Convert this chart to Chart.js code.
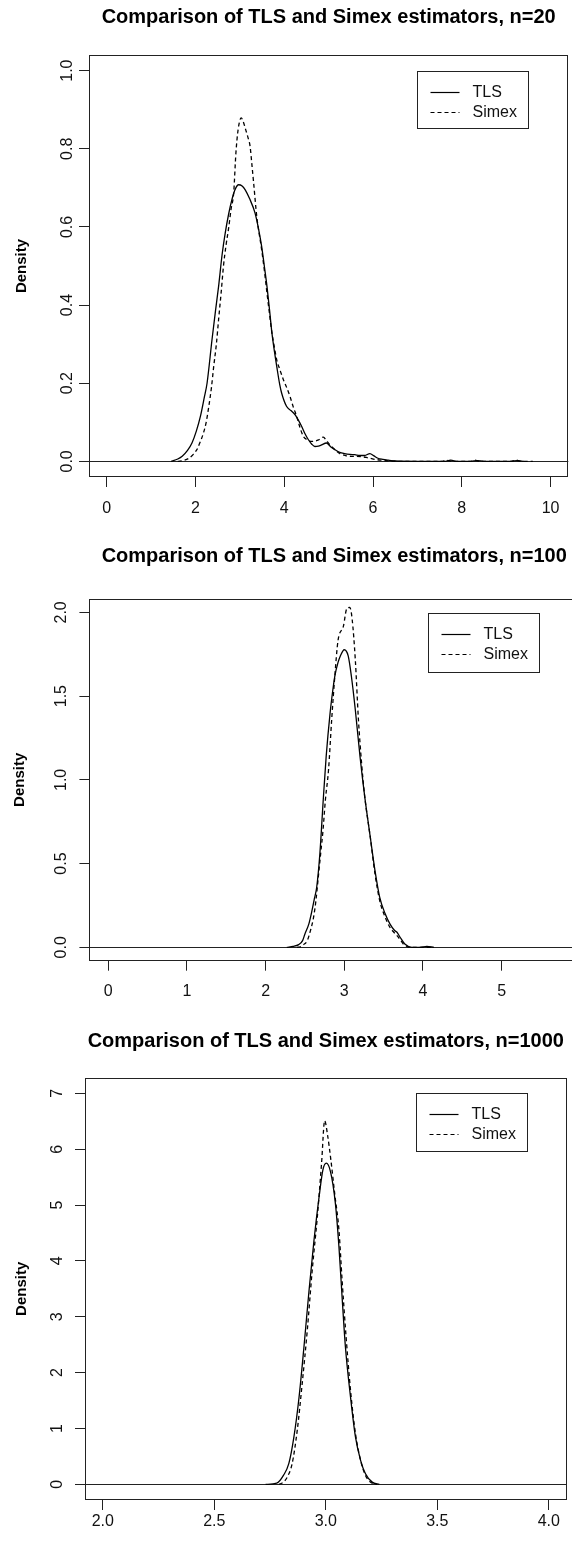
<!DOCTYPE html>
<html>
<head>
<meta charset="utf-8">
<script src="https://cdn.jsdelivr.net/npm/chart.js"></script>
<style>
  html, body { margin: 0; padding: 0; background: #fff; overflow: hidden; }
  .panel { position: absolute; left: 0; }
</style>
</head>
<body>
<div class="panel" style="top:0px;width:572px;height:520px"><canvas id="c20"></canvas></div>
<div class="panel" style="top:520px;width:590px;height:505px"><canvas id="c100"></canvas></div>
<div class="panel" style="top:1025px;width:572px;height:521px"><canvas id="c1000"></canvas></div>
<script>
Chart.defaults.font.family = "'Liberation Sans', Arial, sans-serif";
Chart.defaults.color = '#111';

// n = 20
var tlsX20 = [1.45, 1.60, 1.70, 1.82, 1.92, 2.02, 2.11, 2.20, 2.26, 2.37, 2.45, 2.52, 2.60, 2.67, 2.75, 2.82, 2.90, 2.97, 3.05, 3.12, 3.22, 3.34, 3.42, 3.49, 3.55, 3.61, 3.67, 3.72, 3.78, 3.83, 3.90, 3.94, 4.05, 4.15, 4.24, 4.32, 4.39, 4.47, 4.54, 4.62, 4.69, 4.77, 4.84, 4.95, 5.05, 5.14, 5.25, 5.36, 5.48, 5.59, 5.70, 5.81, 5.93, 6.02, 6.11, 6.22, 6.34, 6.50, 7.00, 7.60, 7.75, 7.90, 8.20, 8.35, 8.50, 9.10, 9.25, 9.40];
var tlsY20 = [0, 0.006, 0.013, 0.028, 0.047, 0.078, 0.115, 0.165, 0.20, 0.31, 0.385, 0.448, 0.53, 0.585, 0.635, 0.67, 0.698, 0.708, 0.705, 0.695, 0.672, 0.636, 0.595, 0.55, 0.50, 0.448, 0.385, 0.33, 0.28, 0.243, 0.195, 0.175, 0.141, 0.13, 0.12, 0.105, 0.09, 0.07, 0.056, 0.044, 0.038, 0.039, 0.042, 0.047, 0.037, 0.030, 0.023, 0.020, 0.018, 0.017, 0.015, 0.015, 0.020, 0.014, 0.008, 0.005, 0.003, 0.001, 0, 0, 0.003, 0, 0, 0.002, 0, 0, 0.002, 0];
var simexX20 = [1.60, 1.75, 1.85, 1.95, 2.03, 2.10, 2.18, 2.24, 2.30, 2.36, 2.41, 2.47, 2.52, 2.58, 2.63, 2.69, 2.75, 2.80, 2.86, 2.91, 2.96, 3.03, 3.08, 3.13, 3.18, 3.23, 3.27, 3.31, 3.38, 3.49, 3.55, 3.61, 3.67, 3.72, 3.78, 3.83, 3.90, 3.98, 4.05, 4.13, 4.20, 4.28, 4.35, 4.43, 4.52, 4.62, 4.70, 4.77, 4.88, 4.95, 5.03, 5.14, 5.25, 5.38, 5.51, 5.62, 5.74, 5.85, 5.93, 6.05, 6.19, 6.40, 6.70, 7.55, 7.65, 7.80, 8.20, 8.30, 8.40, 9.10, 9.22, 9.35, 9.60];
var simexY20 = [0, 0.003, 0.008, 0.018, 0.03, 0.048, 0.073, 0.10, 0.141, 0.19, 0.243, 0.30, 0.363, 0.435, 0.50, 0.555, 0.60, 0.645, 0.687, 0.789, 0.849, 0.879, 0.868, 0.849, 0.83, 0.806, 0.76, 0.712, 0.627, 0.542, 0.49, 0.431, 0.375, 0.33, 0.29, 0.26, 0.235, 0.209, 0.19, 0.166, 0.14, 0.115, 0.088, 0.064, 0.055, 0.051, 0.052, 0.055, 0.062, 0.053, 0.042, 0.030, 0.020, 0.015, 0.013, 0.013, 0.012, 0.010, 0.008, 0.005, 0.003, 0.001, 0, 0, 0.003, 0, 0, 0.003, 0, 0, 0.003, 0, 0];
var xTicks20 = [0, 2, 4, 6, 8, 10];
var yTicks20 = [0, 0.2, 0.4, 0.6, 0.8, 1.0];

// n = 100
var tlsX100 = [2.27, 2.35, 2.42, 2.47, 2.50, 2.55, 2.59, 2.62, 2.65, 2.69, 2.73, 2.77, 2.82, 2.85, 2.88, 2.92, 2.95, 3.00, 3.05, 3.09, 3.14, 3.20, 3.26, 3.33, 3.39, 3.45, 3.52, 3.58, 3.64, 3.67, 3.71, 3.77, 3.86, 3.96, 4.05, 4.14];
var tlsY100 = [0, 0.005, 0.016, 0.04, 0.08, 0.14, 0.22, 0.29, 0.36, 0.56, 0.86, 1.14, 1.40, 1.52, 1.62, 1.70, 1.74, 1.777, 1.74, 1.62, 1.42, 1.14, 0.90, 0.66, 0.46, 0.30, 0.20, 0.14, 0.10, 0.09, 0.06, 0.02, 0, 0, 0.006, 0];
var simexX100 = [2.40, 2.44, 2.48, 2.53, 2.57, 2.61, 2.64, 2.67, 2.70, 2.73, 2.76, 2.80, 2.84, 2.88, 2.92, 2.99, 3.03, 3.07, 3.10, 3.14, 3.18, 3.22, 3.26, 3.33, 3.39, 3.45, 3.52, 3.58, 3.63, 3.67, 3.72, 3.75, 3.84, 4.10];
var simexY100 = [0, 0.003, 0.015, 0.04, 0.10, 0.18, 0.28, 0.42, 0.56, 0.70, 0.88, 1.06, 1.36, 1.62, 1.83, 1.92, 2.02, 2.03, 1.96, 1.72, 1.36, 1.10, 0.90, 0.66, 0.44, 0.28, 0.18, 0.12, 0.09, 0.07, 0.04, 0.02, 0, 0];
var xTicks100 = [0, 1, 2, 3, 4, 5];
var yTicks100 = [0, 0.5, 1.0, 1.5, 2.0];

// n = 1000
var tlsX1000 = [2.73, 2.78, 2.81, 2.834, 2.857, 2.88, 2.902, 2.925, 2.947, 2.97, 2.987, 3.002, 3.021, 3.043, 3.059, 3.073, 3.088, 3.111, 3.133, 3.156, 3.178, 3.208, 3.24];
var tlsY1000 = [0, 0.02, 0.16, 0.37, 0.85, 1.56, 2.46, 3.48, 4.37, 5.15, 5.63, 5.75, 5.6, 5.03, 4.25, 3.36, 2.46, 1.56, 0.85, 0.43, 0.19, 0.04, 0];
var simexX1000 = [2.79, 2.81, 2.827, 2.849, 2.872, 2.894, 2.917, 2.939, 2.962, 2.981, 2.995, 3.008, 3.023, 3.04, 3.059, 3.073, 3.091, 3.111, 3.133, 3.156, 3.178, 3.208, 3.23];
var simexY1000 = [0, 0.04, 0.13, 0.37, 0.97, 1.80, 2.76, 3.83, 4.79, 5.75, 6.51, 6.25, 5.8, 5.2, 4.55, 3.66, 2.64, 1.68, 0.91, 0.43, 0.16, 0.02, 0];
var xTicks1000 = [2.0, 2.5, 3.0, 3.5, 4.0];
var yTicks1000 = [0, 1, 2, 3, 4, 5, 6, 7];

var seriesNames = ['TLS', 'Simex'];

function zip(xs, ys) {
  return xs.map(function(x, i) { return {x: x, y: ys[i]}; });
}

function textWidth(str, font) {
  var c = document.createElement('canvas').getContext('2d');
  c.font = font;
  return c.measureText(str).width;
}

// box round the plot region, as R's box()
var boxPlugin = {
  id: 'rBox',
  afterDraw: function(chart) {
    var a = chart.chartArea, ctx = chart.ctx;
    ctx.save();
    ctx.strokeStyle = '#222';
    ctx.lineWidth = 1;
    ctx.strokeRect(Math.round(a.left) + 0.5, Math.round(a.top) + 0.5,
      Math.round(a.right - a.left) - 1, Math.round(a.bottom - a.top) - 1);
    ctx.restore();
  }
};

// legend box in the top right corner, drawn from the datasets
var legendPlugin = {
  id: 'rLegend',
  afterDraw: function(chart, args, opts) {
    var a = chart.chartArea, ctx = chart.ctx;
    var left = Math.round(a.right - opts.right - opts.w) + 0.5;
    var top = Math.round(a.top + opts.top) + 0.5;
    ctx.save();
    ctx.fillStyle = '#fff';
    ctx.fillRect(left, top, opts.w, opts.h);
    ctx.strokeStyle = '#222';
    ctx.lineWidth = 1;
    ctx.strokeRect(left, top, Math.round(opts.w), Math.round(opts.h));
    ctx.font = "16px 'Liberation Sans', Arial, sans-serif";
    ctx.textBaseline = 'middle';
    chart.data.datasets.forEach(function(ds, i) {
      var y = Math.round(top + 20.5 + i * 20) + 0.5;
      ctx.setLineDash(ds.borderDash || []);
      ctx.strokeStyle = '#000';
      ctx.lineWidth = 1.2;
      ctx.beginPath();
      ctx.moveTo(left + 13, y);
      ctx.lineTo(left + 42, y);
      ctx.stroke();
      ctx.setLineDash([]);
      ctx.fillStyle = '#111';
      ctx.fillText(ds.label, left + 55, y);
    });
    ctx.restore();
  }
};

function drawPanel(id, title, tls, simex, xTicks, yTicks, xr, yr, fmtX, fmtY, lay) {
  var tickFont = "16px 'Liberation Sans', Arial, sans-serif";
  var widest = Math.max.apply(null, yTicks.map(function(v) { return textWidth(fmtY(v), tickFont); }));
  var tl = 10;
  new Chart(document.getElementById(id), {
    type: 'line',
    data: {
      datasets: [{
        label: seriesNames[0],
        data: tls,
        borderColor: '#000',
        borderWidth: 1.3,
        pointRadius: 0,
        cubicInterpolationMode: 'monotone',
        fill: false
      }, {
        label: seriesNames[1],
        data: simex,
        borderColor: '#000',
        borderWidth: 1.3,
        borderDash: [4, 3],
        pointRadius: 0,
        cubicInterpolationMode: 'monotone',
        fill: false
      }]
    },
    options: {
      responsive: true,
      maintainAspectRatio: false,
      animation: false,
      layout: { padding: { left: 0, top: 0, right: lay.W - lay.R, bottom: 0 } },
      plugins: {
        legend: { display: false },
        tooltip: { enabled: false },
        title: {
          display: true,
          text: title,
          fullSize: false,
          color: '#000',
          font: { size: 20, weight: 'bold', lineHeight: 1.2 },
          padding: { top: lay.titleY - 12, bottom: lay.T - lay.titleY - 12 }
        },
        rLegend: lay.leg
      },
      scales: {
        x: {
          type: 'linear',
          position: 'bottom',
          min: xr[0],
          max: xr[1],
          afterFit: function(s) { s.height = lay.H - lay.B; },
          afterBuildTicks: function(s) { s.ticks = xTicks.map(function(v) { return {value: v}; }); },
          ticks: {
            callback: fmtX,
            autoSkip: false,
            maxRotation: 0,
            color: '#111',
            font: { size: 16 },
            padding: lay.xLabY - lay.B - tl - 9.6
          },
          grid: { drawOnChartArea: false, drawTicks: true, tickLength: tl, tickColor: '#222' },
          border: { display: false }
        },
        y: {
          min: yr[0],
          max: yr[1],
          afterFit: function(s) { s.width = lay.L; },
          afterBuildTicks: function(s) { s.ticks = yTicks.map(function(v) { return {value: v}; }); },
          ticks: {
            callback: fmtY,
            autoSkip: false,
            minRotation: 90,
            maxRotation: 90,
            crossAlign: 'center',
            color: '#111',
            font: { size: 16 },
            padding: lay.L - tl - widest / 2 - lay.yLabX
          },
          grid: {
            drawOnChartArea: true,
            drawTicks: true,
            tickLength: tl,
            tickColor: '#222',
            color: function(c) { return c.tick && c.tick.value === 0 ? '#222' : 'rgba(0,0,0,0)'; }
          },
          border: { display: false },
          title: {
            display: true,
            text: 'Density',
            color: '#000',
            font: { size: 15, weight: 'bold', lineHeight: 1.2 },
            padding: { top: lay.densX - 9, bottom: 0 }
          }
        }
      }
    },
    plugins: [boxPlugin, legendPlugin]
  });
}

function one(v) { return v.toFixed(1); }
function whole(v) { return String(v); }

drawPanel('c20', 'Comparison of TLS and Simex estimators, n=20',
  zip(tlsX20, tlsY20), zip(simexX20, simexY20), xTicks20, yTicks20,
  [-0.4, 10.4], [-0.04, 1.04], whole, one,
  { W: 572, H: 520, L: 89, T: 55, R: 571, B: 477, titleY: 17, yLabX: 67.5, xLabY: 509, densX: 22,
    leg: { right: 41, top: 15.7, w: 110.5, h: 57.3 } });

// the plot region runs past the right edge of the page
drawPanel('c100', 'Comparison of TLS and Simex estimators, n=100',
  zip(tlsX100, tlsY100), zip(simexX100, simexY100), xTicks100, yTicks100,
  [-0.24, 5.984], [-0.08, 2.08], whole, one,
  { W: 590, H: 505, L: 89.4, T: 79, R: 579, B: 440.7, titleY: 36.7, yLabX: 62, xLabY: 471.7, densX: 20,
    leg: { right: 40, top: 14, w: 111, h: 58.7 } });

drawPanel('c1000', 'Comparison of TLS and Simex estimators, n=1000',
  zip(tlsX1000, tlsY1000), zip(simexX1000, simexY1000), xTicks1000, yTicks1000,
  [1.92, 4.08], [-0.28, 7.28], one, whole,
  { W: 572, H: 521, L: 85, T: 52.7, R: 566.6, B: 475, titleY: 16.7, yLabX: 58, xLabY: 496.7, densX: 22,
    leg: { right: 39.6, top: 15.6, w: 111.3, h: 57.7 } });
</script>
</body>
</html>
